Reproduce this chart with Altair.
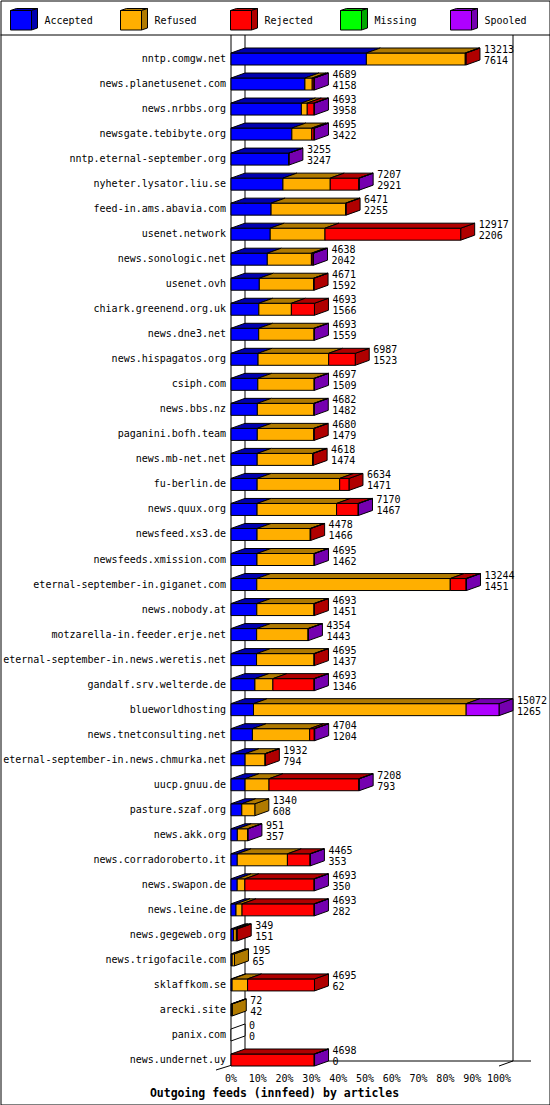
import altair as alt
import pandas as pd

hosts = [
    "nntp.comgw.net", "news.planetusenet.com", "news.nrbbs.org", "newsgate.tebibyte.org",
    "nntp.eternal-september.org", "nyheter.lysator.liu.se", "feed-in.ams.abavia.com",
    "usenet.network", "news.sonologic.net", "usenet.ovh", "chiark.greenend.org.uk",
    "news.dne3.net", "news.hispagatos.org", "csiph.com", "news.bbs.nz", "paganini.bofh.team",
    "news.mb-net.net", "fu-berlin.de", "news.quux.org", "newsfeed.xs3.de",
    "newsfeeds.xmission.com", "eternal-september-in.giganet.com", "news.nobody.at",
    "motzarella-in.feeder.erje.net", "eternal-september-in.news.weretis.net",
    "gandalf.srv.welterde.de", "blueworldhosting", "news.tnetconsulting.net",
    "eternal-september-in.news.chmurka.net", "uucp.gnuu.de", "pasture.szaf.org",
    "news.akk.org", "news.corradoroberto.it", "news.swapon.de", "news.leine.de",
    "news.gegeweb.org", "news.trigofacile.com", "sklaffkom.se", "arecki.site",
    "panix.com", "news.undernet.uy",
]
totals = [13213, 4689, 4693, 4695, 3255, 7207, 6471, 12917, 4638, 4671, 4693, 4693, 6987,
          4697, 4682, 4680, 4618, 6634, 7170, 4478, 4695, 13244, 4693, 4354, 4695, 4693,
          15072, 4704, 1932, 7208, 1340, 951, 4465, 4693, 4693, 349, 195, 4695, 72, 0, 4698]
accepted = [7614, 4158, 3958, 3422, 3247, 2921, 2255, 2206, 2042, 1592, 1566, 1559, 1523,
            1509, 1482, 1479, 1474, 1471, 1467, 1466, 1462, 1451, 1451, 1443, 1437, 1346,
            1265, 1204, 794, 793, 608, 357, 353, 350, 282, 151, 65, 62, 42, 0, 0]
refused = [5560, 410, 330, 1120, 0, 2660, 4190, 3080, 2480, 3050, 1830, 3110, 3970,
           3165, 3178, 3175, 3120, 4640, 4470, 2990, 3210, 10880, 3215, 2890, 3230, 1010,
           11960, 3220, 1120, 1345, 732, 575, 2820, 430, 340, 150, 130, 870, 30, 0, 0]
rejected = [39, 100, 385, 130, 0, 1610, 26, 7631, 90, 29, 1297, 0, 1494,
            0, 0, 26, 24, 523, 1215, 22, 0, 890, 27, 0, 28, 2315,
            0, 258, 18, 5050, 0, 0, 1272, 3893, 4051, 48, 0, 3763, 0, 0, 4678]
missing = [0, 0, 0, 0, 0, 0, 0, 0, 0, 0, 0, 0, 0,
           0, 0, 0, 0, 0, 0, 0, 0, 0, 0, 0, 0, 0,
           0, 0, 0, 0, 0, 0, 0, 0, 0, 0, 0, 0, 0, 0, 0]
spooled = [0, 21, 20, 23, 8, 16, 0, 0, 26, 0, 0, 24, 0,
           23, 22, 0, 0, 0, 18, 0, 23, 23, 0, 21, 0, 22,
           1847, 22, 0, 20, 0, 19, 20, 20, 20, 0, 0, 0, 0, 0, 20]

categories = ["Accepted", "Refused", "Rejected", "Missing", "Spooled"]
front_colors = ["#0000FF", "#FFAF00", "#FF0000", "#00FF00", "#AF00FF"]
dark_colors = ["#0000AF", "#B07A00", "#B00000", "#00A800", "#7500AF"]
tick_pct = [0, 10, 20, 30, 40, 50, 60, 70, 80, 90, 100]
title_text = "Outgoing feeds (innfeed) by articles"

FONT = "DejaVu Sans Mono"
XMAX = max(totals)
X_RANGE = [230.5, 498.5]
PXD = XMAX / (X_RANGE[1] - X_RANGE[0])      # data units per pixel
DX = 14 * PXD                                # 3D depth, horizontal
N = len(hosts)
Y_RANGE = [58.5, 1059.5]
ROWPX = (Y_RANGE[1] - Y_RANGE[0]) / (N - 1)
HALF = 6 / ROWPX                             # half front height
DY = 5 / ROWPX                               # 3D depth, vertical

xs = alt.Scale(domain=[0, XMAX], range=X_RANGE, zero=False, nice=False)
ys = alt.Scale(domain=[0, N - 1], range=Y_RANGE, zero=False, nice=False)

front_rows, top_rows, side_rows = [], [], []
for r in range(N):
    vals = [accepted[r], refused[r], rejected[r], missing[r], spooled[r]]
    s = 0
    last_e, last_k = 0, None
    for k, v in enumerate(vals):
        if v <= 0:
            continue
        e = s + v
        front_rows.append(dict(x=s, x2=e, y=r - HALF, y2=r + HALF, fill=front_colors[k]))
        key = f"{r:02d}_{k}"
        top_rows.append(dict(key=key, y=r - HALF, x=s, x2=e, fill=dark_colors[k]))
        top_rows.append(dict(key=key, y=r - HALF - DY, x=s + DX, x2=e + DX, fill=dark_colors[k]))
        last_e, last_k = e, k
        s = e
    col = dark_colors[last_k] if last_k is not None else "#FFFFFF"
    key = f"{r:02d}"
    side_rows.append(dict(key=key, x=last_e, y=r - HALF, y2=r + HALF, fill=col))
    side_rows.append(dict(key=key, x=last_e + DX, y=r - HALF - DY, y2=r + HALF - DY, fill=col))

front_df = pd.DataFrame(front_rows)
top_df = pd.DataFrame(top_rows)
side_df = pd.DataFrame(side_rows)
host_df = pd.DataFrame({"host": hosts, "row": list(range(N)), "total": totals, "acc": accepted})
tick_df = pd.DataFrame({"v": [p / 100 * XMAX for p in tick_pct], "lab": [f"{p}%" for p in tick_pct]})

sides = alt.Chart(side_df).mark_area(orient="vertical", stroke="black", strokeWidth=1).encode(
    x=alt.X("x:Q", scale=xs),
    y=alt.Y("y:Q", scale=ys, stack=None),
    y2="y2:Q",
    detail="key:N",
    fill=alt.Fill("fill:N", scale=None),
)
fronts = alt.Chart(front_df).mark_rect(stroke="black", strokeWidth=1).encode(
    x=alt.X("x:Q", scale=xs), x2="x2:Q",
    y=alt.Y("y:Q", scale=ys), y2="y2:Q",
    fill=alt.Fill("fill:N", scale=None),
)
tops = alt.Chart(top_df).mark_area(orient="horizontal", stroke="black", strokeWidth=1).encode(
    y=alt.Y("y:Q", scale=ys),
    x=alt.X("x:Q", scale=xs, stack=None),
    x2="x2:Q",
    detail="key:N",
    fill=alt.Fill("fill:N", scale=None),
)

BOT = N - 1 + HALF          # front floor edge (row units)
BACK = N - 1 + HALF - DY    # back floor edge
TOPROW = (34.5 - Y_RANGE[0]) / ROWPX   # legend separator, in row units

def rule(x, x2, y, y2):
    return alt.Chart(pd.DataFrame({"a": [0]})).mark_rule(color="black", strokeWidth=1).encode(
        x=alt.X(datum=x, scale=xs), x2=alt.X2(datum=x2),
        y=alt.Y(datum=y, scale=ys), y2=alt.Y2(datum=y2),
    )

frame = [
    rule(-230.5 * PXD, 548.5 * PXD, TOPROW, TOPROW),
    rule(0, 0, TOPROW, BOT),
    rule(DX, DX, TOPROW, BACK),
    rule(XMAX + DX, XMAX + DX, TOPROW, BACK),
    rule(DX, 300 * PXD, BACK, BACK),
    rule(DX, -15 * PXD, BACK, BOT + 4 / ROWPX),
    rule(XMAX, XMAX + DX, BOT, BACK),
]

labels = alt.Chart(host_df).mark_text(align="right", baseline="middle", dx=-5,
                                      font=FONT, fontSize=10, color="black").encode(
    x=alt.X(datum=0, scale=xs), y=alt.Y("row:Q", scale=ys), text="host:N")
tot_txt = alt.Chart(host_df).mark_text(align="left", baseline="middle", dx=18, dy=-9,
                                       font=FONT, fontSize=10, color="black").encode(
    x=alt.X("total:Q", scale=xs), y=alt.Y("row:Q", scale=ys), text="total:Q")
acc_txt = alt.Chart(host_df).mark_text(align="left", baseline="middle", dx=18, dy=2,
                                       font=FONT, fontSize=10, color="black").encode(
    x=alt.X("total:Q", scale=xs), y=alt.Y("row:Q", scale=ys), text="acc:Q")
ticks = alt.Chart(tick_df).mark_text(align="center", baseline="middle", dy=19,
                                     font=FONT, fontSize=10, color="black").encode(
    x=alt.X("v:Q", scale=xs), y=alt.Y(datum=N - 1, scale=ys), text="lab:N")
title = alt.Chart(pd.DataFrame({"t": [title_text]})).mark_text(
    align="center", baseline="middle", font=FONT, fontSize=11.5, fontWeight="bold",
    color="black").encode(x=alt.value(274), y=alt.value(1093.5), text="t:N")

# legend
LX = alt.Scale(domain=[0, 5], range=[10, 560], zero=False, nice=False)
LY = alt.Scale(domain=[0, 35], range=[0, 35], zero=False, nice=False)
W = 21 / 110
LD = 6 / 110
leg_front = pd.DataFrame({"x": [i for i in range(5)], "x2": [i + W for i in range(5)],
                          "y": [10] * 5, "y2": [29.5] * 5, "fill": front_colors})
lt, lsd = [], []
for i in range(5):
    lt += [dict(key=i, y=10, x=i, x2=i + W, fill=dark_colors[i]),
           dict(key=i, y=8, x=i + LD, x2=i + W + LD, fill=dark_colors[i])]
    lsd += [dict(key=i, x=i + W, y=10, y2=29.5, fill=dark_colors[i]),
            dict(key=i, x=i + W + LD, y=8, y2=27.5, fill=dark_colors[i])]
leg_txt = pd.DataFrame({"x": [i + 34 / 110 for i in range(5)], "y": [20.5] * 5, "t": categories})

l1 = alt.Chart(leg_front).mark_rect(stroke="black", strokeWidth=1).encode(
    x=alt.X("x:Q", scale=LX), x2="x2:Q", y=alt.Y("y:Q", scale=LY), y2="y2:Q",
    fill=alt.Fill("fill:N", scale=None))
l2 = alt.Chart(pd.DataFrame(lt)).mark_area(orient="horizontal", stroke="black", strokeWidth=1).encode(
    y=alt.Y("y:Q", scale=LY), x=alt.X("x:Q", scale=LX, stack=None), x2="x2:Q",
    detail="key:N", fill=alt.Fill("fill:N", scale=None))
l3 = alt.Chart(pd.DataFrame(lsd)).mark_area(orient="vertical", stroke="black", strokeWidth=1).encode(
    x=alt.X("x:Q", scale=LX), y=alt.Y("y:Q", scale=LY, stack=None), y2="y2:Q",
    detail="key:N", fill=alt.Fill("fill:N", scale=None))
l4 = alt.Chart(leg_txt).mark_text(align="left", baseline="middle", font=FONT, fontSize=10,
                                  color="black").encode(
    x=alt.X("x:Q", scale=LX), y=alt.Y("y:Q", scale=LY), text="t:N")

chart = alt.layer(
    *frame, sides, fronts, tops, labels, tot_txt, acc_txt, ticks, title, l1, l2, l3, l4
).resolve_scale(x="independent", y="independent").properties(
    width=549, height=1104, padding=0.5, background="white",
    autosize=alt.AutoSizeParams(type="none"),
).configure_view(stroke="black", strokeWidth=1).configure_axis(disable=True)

chart.save("out.html", embed_options={"renderer": "svg", "actions": False})
